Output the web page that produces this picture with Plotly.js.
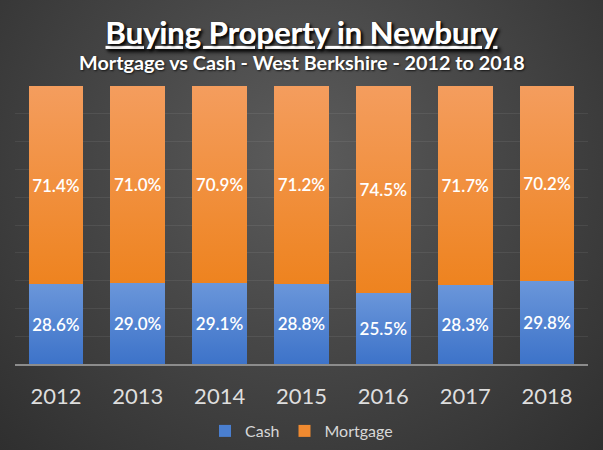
<!doctype html>
<html lang="en">
<head>
    <meta charset="UTF-8">
    <title>Buying Property in Newbury</title>
    <script src="https://cdn.plot.ly/plotly-3.0.1.min.js"></script>
    <style>
        html, body {
            margin: 0;
            padding: 0;
        }
        body {
            width: 603px;
            height: 450px;
            overflow: hidden;
            background: radial-gradient(ellipse at 50% 35%, #5c5c5c 0%, #474747 45%, #2f2f2f 100%);
        }
        #chart {
            width: 603px;
            height: 450px;
        }
    </style>
</head>
<body>
    <!-- gradients for the bar fills -->
    <svg width="0" height="0" style="position:absolute">
        <defs>
            <linearGradient id="gradMortgage" x1="0" y1="0" x2="0" y2="1">
                <stop offset="0%" stop-color="#f49d5e"/>
                <stop offset="100%" stop-color="#ee831f"/>
            </linearGradient>
            <linearGradient id="gradCash" x1="0" y1="0" x2="0" y2="1">
                <stop offset="0%" stop-color="#6a96da"/>
                <stop offset="100%" stop-color="#3d73c9"/>
            </linearGradient>
        </defs>
    </svg>
    <div id="chart"></div>

    <script>
        var years = ['2012', '2013', '2014', '2015', '2016', '2017', '2018'];
        var cash = [28.6, 29.0, 29.1, 28.8, 25.5, 28.3, 29.8];
        var mortgage = [71.4, 71.0, 70.9, 71.2, 74.5, 71.7, 70.2];

        var fontFamily = 'Lato, "Open Sans", sans-serif';

        var traces = [
            {
                name: 'Cash',
                type: 'bar',
                x: years,
                y: cash,
                marker: { color: '#4a7fd0' },
                texttemplate: '%{y:.1f}%',
                textposition: 'inside',
                insidetextanchor: 'middle',
                textfont: { family: fontFamily, size: 17, color: '#ffffff', weight: 600 },
                hoverinfo: 'none'
            },
            {
                name: 'Mortgage',
                type: 'bar',
                x: years,
                y: mortgage,
                marker: { color: '#f08a30' },
                texttemplate: '%{y:.1f}%',
                textposition: 'inside',
                insidetextanchor: 'middle',
                textfont: { family: fontFamily, size: 17, color: '#ffffff', weight: 600 },
                hoverinfo: 'none'
            }
        ];

        var layout = {
            width: 603,
            height: 450,
            barmode: 'stack',
            bargap: 0.33,
            paper_bgcolor: 'rgba(0,0,0,0)',
            plot_bgcolor: 'rgba(0,0,0,0)',
            margin: { l: 15, r: 15, t: 86, b: 86, autoexpand: false },
            font: { family: fontFamily, color: '#ffffff' },
            title: {
                text: 'Buying Property in Newbury',
                x: 0.5,
                xanchor: 'center',
                y: 1 - 33 / 450,
                yanchor: 'middle',
                font: {
                    family: fontFamily,
                    size: 31,
                    color: '#ffffff',
                    weight: 700,
                    lineposition: 'under',
                    shadow: '2px 2px 3px rgba(0,0,0,0.7)'
                }
            },
            annotations: [
                {
                    text: 'Mortgage vs Cash - West Berkshire - 2012 to 2018',
                    xref: 'paper',
                    yref: 'paper',
                    x: 0.5,
                    y: (364 - 62) / 278,
                    xanchor: 'center',
                    yanchor: 'middle',
                    showarrow: false,
                    font: {
                        family: fontFamily,
                        size: 19.8,
                        color: '#ffffff',
                        weight: 700,
                        shadow: '1px 1px 2px rgba(0,0,0,0.7)'
                    }
                }
            ],
            xaxis: {
                type: 'category',
                showline: true,
                linecolor: '#8c8c8c',
                linewidth: 1.5,
                showgrid: false,
                ticks: '',
                ticklabelstandoff: 12,
                tickfont: { family: fontFamily, size: 22, color: '#dedede' },
                fixedrange: true
            },
            yaxis: {
                range: [0, 100],
                dtick: 10,
                showgrid: true,
                gridcolor: 'rgba(255,255,255,0.07)',
                gridwidth: 1,
                zeroline: false,
                showticklabels: false,
                fixedrange: true
            },
            legend: {
                orientation: 'h',
                x: 0.5,
                xanchor: 'center',
                y: (364 - 431) / 278,
                yanchor: 'middle',
                font: { family: fontFamily, size: 16, color: '#d8d8d8' },
                traceorder: 'normal',
                itemwidth: 30,
                itemclick: false
            },
            showlegend: true
        };

        Plotly.newPlot('chart', traces, layout, { displayModeBar: false, staticPlot: true }).then(function (gd) {
            // Give the bars the soft vertical fade seen in the original
            var bars = gd.querySelectorAll('.barlayer .trace');
            var fills = ['url(#gradCash)', 'url(#gradMortgage)'];
            bars.forEach(function (tr, i) {
                tr.querySelectorAll('.point path').forEach(function (p) {
                    p.style.fill = fills[i];
                });
            });
        });
    </script>
</body>
</html>
